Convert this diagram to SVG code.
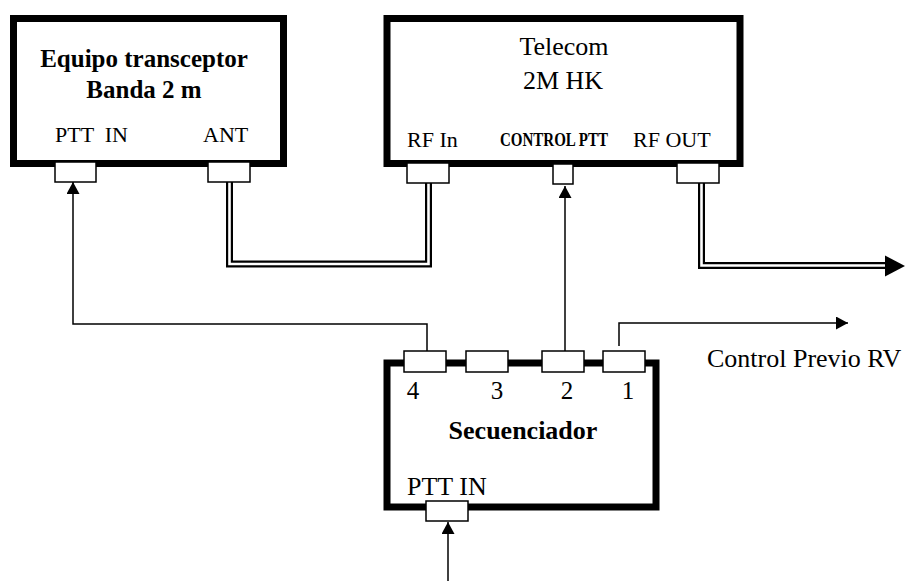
<svg xmlns="http://www.w3.org/2000/svg" width="913" height="581" viewBox="0 0 913 581">
<style>
.box{fill:#fff;stroke:#000;stroke-width:7}
.port{fill:#fff;stroke:#000;stroke-width:1.5}
.t{font-family:"Liberation Serif","Times New Roman",serif;fill:#000}
.b{font-weight:bold}
.wire{fill:none;stroke:#000;stroke-width:1.5}
.coaxO{fill:none;stroke:#000;stroke-width:7}
.coaxI{fill:none;stroke:#fff;stroke-width:2.6}
</style>
<defs>
<marker id="arr" viewBox="0 0 12 13" refX="12" refY="6.5" markerWidth="12" markerHeight="13" markerUnits="userSpaceOnUse" orient="auto">
<path d="M0,0 L12,6.5 L0,13 z" fill="#000"/>
</marker>
</defs>
<rect width="913" height="581" fill="#fff"/>

<g id="connectors">
<path class="coaxO" d="M229.5 182 V264 H428.5 V183"/>
<path class="coaxI" d="M229.5 182 V264 H428.5 V183"/>
<path class="coaxO" d="M701.5 183 V265.5 H888"/>
<path class="coaxI" d="M701.5 183 V265.5 H888"/>
<polygon points="885,255.5 905,266 885,276.5" fill="#000"/>
<path class="wire" d="M427 351 V324 H73 V182" marker-end="url(#arr)"/>
<path class="wire" d="M565 351 V186" marker-end="url(#arr)"/>
<path class="wire" d="M619 346 V323 H848" marker-end="url(#arr)"/>
<path class="wire" d="M448 581 V522" marker-end="url(#arr)"/>
</g>

<g id="transceptor">
<rect class="box" x="13.5" y="18.5" width="270" height="145"/>
<text class="t b" x="144" y="67" font-size="25" text-anchor="middle">Equipo transceptor</text>
<text class="t b" x="144" y="98" font-size="25" text-anchor="middle">Banda 2 m</text>
<text class="t" x="55" y="142" font-size="22" xml:space="preserve">PTT  IN</text>
<text class="t" x="203" y="142" font-size="22">ANT</text>
<rect class="port" x="55" y="162" width="41" height="20"/>
<rect class="port" x="208" y="162" width="42" height="20"/>
</g>

<g id="telecom">
<rect class="box" x="387" y="18.5" width="353" height="145"/>
<text class="t" x="564" y="55" font-size="26" text-anchor="middle">Telecom</text>
<text class="t" x="563" y="89" font-size="26" text-anchor="middle">2M HK</text>
<text class="t" x="407" y="147" font-size="22">RF In</text>
<text class="t b" x="500" y="146" font-size="18" textLength="108" lengthAdjust="spacingAndGlyphs">CONTROL PTT</text>
<text class="t" x="633" y="147" font-size="22">RF OUT</text>
<rect class="port" x="407" y="163" width="42" height="20"/>
<rect class="port" x="553" y="164" width="20" height="20"/>
<rect class="port" x="677" y="163" width="42" height="20"/>
</g>

<g id="secuenciador">
<rect class="box" x="387" y="363" width="269" height="144"/>
<rect class="port" x="404" y="351" width="42" height="21"/>
<rect class="port" x="466" y="351" width="42" height="21"/>
<rect class="port" x="542" y="351" width="42" height="21"/>
<rect class="port" x="603" y="351" width="42" height="21"/>
<text class="t" x="413" y="399" font-size="25" text-anchor="middle">4</text>
<text class="t" x="497" y="399" font-size="25" text-anchor="middle">3</text>
<text class="t" x="567" y="399" font-size="25" text-anchor="middle">2</text>
<text class="t" x="628" y="399" font-size="25" text-anchor="middle">1</text>
<text class="t b" x="523" y="439" font-size="26" text-anchor="middle">Secuenciador</text>
<text class="t" x="407" y="495" font-size="26">PTT IN</text>
<rect class="port" x="426" y="501" width="42" height="20"/>
</g>

<g id="control-previo">
<text class="t" x="707" y="367" font-size="26">Control Previo RV</text>
</g>
</svg>
